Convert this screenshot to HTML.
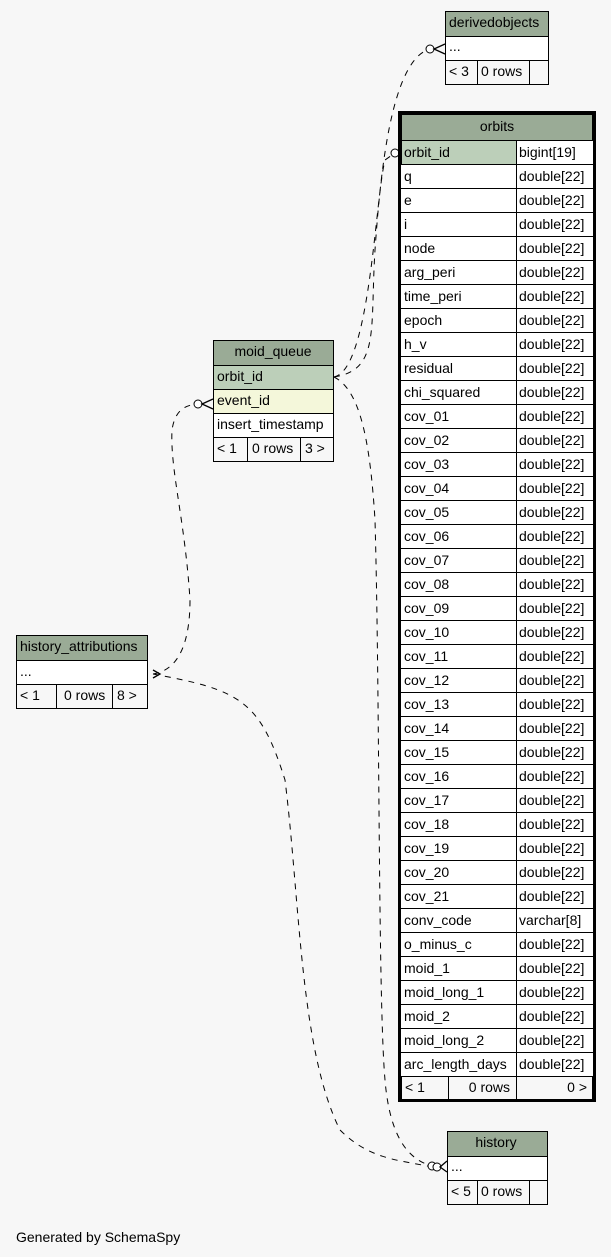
<!DOCTYPE html>
<html><head><meta charset="utf-8"><style>
body{margin:0;background:#f7f7f7}
svg{display:block}
text{font-family:"Liberation Sans",sans-serif;font-size:14px;fill:#000}
</style></head><body>
<svg width="611" height="1257" xmlns="http://www.w3.org/2000/svg">
<rect width="611" height="1257" fill="#f7f7f7"/>
<g fill="none" stroke="#000" stroke-width="1" stroke-dasharray="6,6">
<path d="M334,377 C380,370 370,330 375,250 C380,180 390,60 430,49"/>
<path d="M334,377 C370,370 375,200 385,160 L395,153"/>
<path d="M334,377 C360,390 370,440 375,520 C380,700 378,1000 385,1080 C390,1140 410,1160 432,1166"/>
<path d="M153,674 C180,670 190,640 190,600 C185,520 170,470 172,430 C175,410 185,405 198,404"/>
<path d="M153,674 C240,690 260,700 285,780 C300,900 300,1050 340,1130 C370,1160 400,1160 432,1167"/>
</g>
<g fill="#fff" stroke="#000">
<circle cx="430" cy="49" r="4"/><circle cx="395" cy="153" r="4"/><circle cx="198" cy="404" r="4"/>
<circle cx="432" cy="1166" r="4"/><circle cx="437" cy="1167" r="4"/>
</g>
<g stroke="#000" fill="none" stroke-width="1.3">
<path d="M445,44 L434,49 L445,54"/><path d="M213,399 L202,404 L213,409"/>
<path d="M447,1161 L440,1167 L447,1172"/><path d="M399,148 L399,158"/>
<path d="M153,670 L160,674 L153,678"/>
</g>
<!-- derivedobjects -->
<g stroke="#000">
<rect x="445.5" y="11.5" width="103" height="25" fill="#9aab96"/>
<rect x="445.5" y="36.5" width="103" height="24" fill="#fff"/>
<rect x="445.5" y="60.5" width="103" height="24" fill="#f7f7f7"/>
<line x1="477.5" y1="60" x2="477.5" y2="84"/><line x1="529.5" y1="60" x2="529.5" y2="84"/>
</g>
<text x="449" y="27">derivedobjects</text><text x="449" y="51">...</text>
<text x="449" y="76">&lt; 3</text><text x="481" y="76">0 rows</text>
<!-- moid_queue -->
<g stroke="#000">
<rect x="213.5" y="340.5" width="120" height="25" fill="#9aab96"/>
<rect x="213.5" y="365.5" width="120" height="24" fill="#bccfb9"/>
<rect x="213.5" y="389.5" width="120" height="24" fill="#f4f7da"/>
<rect x="213.5" y="413.5" width="120" height="24" fill="#fff"/>
<rect x="213.5" y="437.5" width="120" height="24" fill="#f7f7f7"/>
<line x1="247.5" y1="437" x2="247.5" y2="461"/><line x1="300.5" y1="437" x2="300.5" y2="461"/>
</g>
<text x="273" y="356" text-anchor="middle">moid_queue</text>
<text x="217" y="381">orbit_id</text><text x="217" y="405">event_id</text><text x="217" y="429">insert_timestamp</text>
<text x="217" y="453">&lt; 1</text><text x="252" y="453">0 rows</text><text x="305" y="453">3 &gt;</text>
<!-- history_attributions -->
<g stroke="#000">
<rect x="16.5" y="635.5" width="131" height="25" fill="#9aab96"/>
<rect x="16.5" y="660.5" width="131" height="24" fill="#fff"/>
<rect x="16.5" y="684.5" width="131" height="24" fill="#f7f7f7"/>
<line x1="56.5" y1="684" x2="56.5" y2="708"/><line x1="112.5" y1="684" x2="112.5" y2="708"/>
</g>
<text x="20" y="651">history_attributions</text><text x="20" y="676">...</text>
<text x="20" y="700">&lt; 1</text><text x="64" y="700">0 rows</text><text x="117" y="700">8 &gt;</text>
<!-- history -->
<g stroke="#000">
<rect x="447.5" y="1131.5" width="100" height="25" fill="#9aab96"/>
<rect x="447.5" y="1156.5" width="100" height="24" fill="#fff"/>
<rect x="447.5" y="1180.5" width="100" height="24" fill="#f7f7f7"/>
<line x1="477.5" y1="1180" x2="477.5" y2="1204"/><line x1="529.5" y1="1180" x2="529.5" y2="1204"/>
</g>
<text x="496" y="1147" text-anchor="middle">history</text><text x="451" y="1171">...</text>
<text x="451" y="1196">&lt; 5</text><text x="481" y="1196">0 rows</text>
<!-- orbits -->
<rect x="399.5" y="112.5" width="195" height="988" fill="#fff" stroke="#000" stroke-width="3"/>
<rect x="401.5" y="114.5" width="191" height="26" fill="#9aab96" stroke="#000"/>
<rect x="401.5" y="140.5" width="115" height="24" fill="#bccfb9" stroke="#000"/>
<g id="rows" stroke="#000" fill="none"></g>
<text x="497" y="131" text-anchor="middle">orbits</text>
<g id="rt"></g>
<rect x="401.5" y="1076.5" width="191" height="23" fill="#f7f7f7" stroke="#000"/>
<line x1="448.5" y1="1076" x2="448.5" y2="1100" stroke="#000"/><line x1="516.5" y1="1076" x2="516.5" y2="1100" stroke="#000"/>
<text x="405" y="1092">&lt; 1</text><text x="510" y="1092" text-anchor="end">0 rows</text><text x="587" y="1092" text-anchor="end">0 &gt;</text>
<text x="16" y="1242">Generated by SchemaSpy</text>
</svg>
<script>
var n=["orbit_id","q","e","i","node","arg_peri","time_peri","epoch","h_v","residual","chi_squared"];
for(var k=1;k<=21;k++)n.push("cov_"+(k<10?"0":"")+k);
n=n.concat(["conv_code","o_minus_c","moid_1","moid_long_1","moid_2","moid_long_2","arc_length_days"]);
var g=document.getElementById("rows"),t=document.getElementById("rt"),s="",h="";
n.forEach(function(c,i){var y=140+i*24;
s+='<line x1="401" y1="'+(y+24.5)+'" x2="593" y2="'+(y+24.5)+'"/>';
var ty=c=="orbit_id"?"bigint[19]":c=="conv_code"?"varchar[8]":"double[22]";
h+='<text x="404" y="'+(y+17)+'">'+c+'</text><text x="519" y="'+(y+17)+'">'+ty+'</text>';});
s+='<line x1="516.5" y1="140" x2="516.5" y2="1076"/>';
g.innerHTML=s;t.innerHTML=h;
</script>
</body></html>
